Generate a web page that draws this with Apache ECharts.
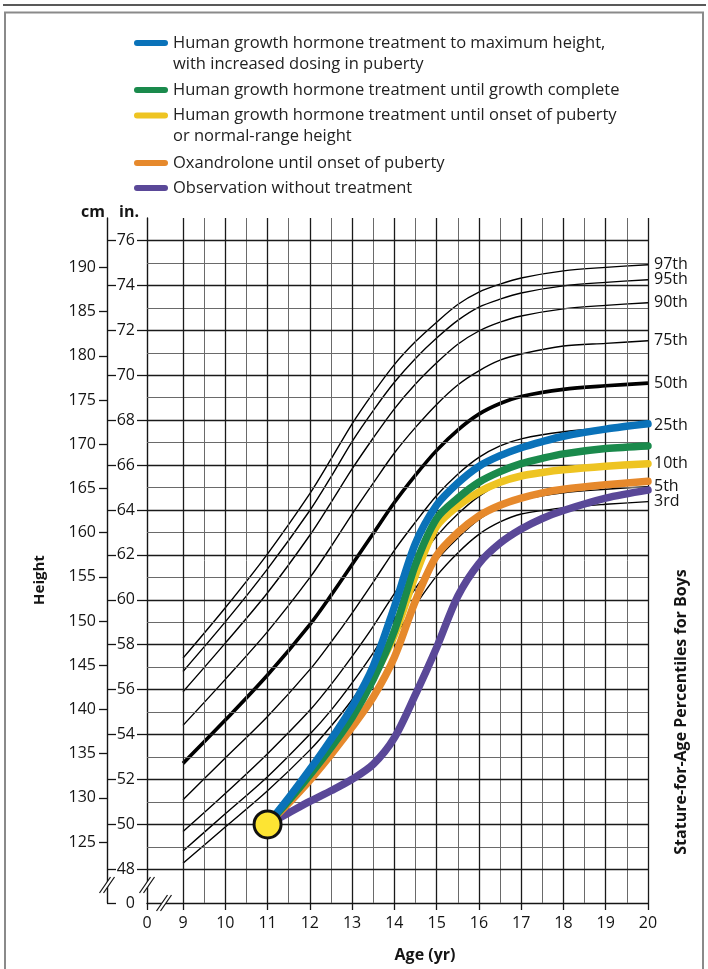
<!DOCTYPE html>
<html><head><meta charset="utf-8">
<script src="https://cdn.jsdelivr.net/npm/echarts@6/dist/echarts.min.js"></script>
<style>html,body{margin:0;padding:0;background:#fff}#c{width:708px;height:969px}</style>
</head><body><div id="c"></div>
<script>
// ---- percentile curves (cm) ----
const ages = [9, 10, 11, 12, 12.5, 13, 13.5, 14, 14.5, 15, 15.5, 16, 16.5, 17, 18, 19, 20];
const p97 = [145.8, 151.5, 157.6, 164.4, 168.3, 172.3, 175.8, 179.0, 181.6, 183.8, 185.8, 187.2, 188.1, 188.8, 189.6, 190.0, 190.3];
const p95 = [144.3, 149.9, 155.9, 162.5, 166.3, 170.3, 173.8, 177.0, 179.7, 182.0, 184.0, 185.5, 186.4, 187.1, 187.9, 188.3, 188.6];
const p90 = [142.0, 147.5, 153.2, 159.7, 163.4, 167.2, 170.7, 174.0, 176.8, 179.2, 181.3, 182.8, 183.8, 184.5, 185.3, 185.7, 186.0];
const p75 = [138.2, 143.4, 148.8, 154.9, 158.4, 162.1, 165.6, 169.0, 171.9, 174.5, 176.7, 178.3, 179.5, 180.2, 181.1, 181.4, 181.7];
const p50 = [133.9, 138.8, 143.9, 149.6, 152.9, 156.4, 159.9, 163.4, 166.5, 169.3, 171.6, 173.4, 174.6, 175.4, 176.2, 176.6, 176.9];
const p25 = [129.8, 134.5, 139.2, 144.5, 147.6, 150.9, 154.4, 158.0, 161.2, 164.2, 166.6, 168.5, 169.8, 170.6, 171.4, 171.8, 172.1];
const p10 = [126.2, 130.5, 135.0, 139.9, 142.8, 146.0, 149.4, 153.1, 156.5, 159.6, 162.1, 164.1, 165.5, 166.3, 167.1, 167.5, 167.8];
const p5  = [124.0, 128.2, 132.4, 137.2, 139.9, 143.0, 146.4, 150.2, 153.7, 156.9, 159.4, 161.5, 162.9, 163.7, 164.5, 164.9, 165.2];
const p3  = [122.6, 126.7, 130.8, 135.4, 138.1, 141.1, 144.5, 148.2, 151.8, 155.1, 157.7, 159.8, 161.2, 162.1, 162.8, 163.2, 163.5];
const percentileNames = ['97th', '95th', '90th', '75th', '50th', '25th', '10th', '5th', '3rd'];

// ---- treatment curves (cm) ----
const agesT = [11, 11.5, 12, 12.5, 13, 13.5, 14, 14.5, 15, 15.5, 16, 16.5, 17, 17.5, 18, 19, 20];
const blueGH   = [127.0, 130.0, 133.2, 136.6, 140.3, 144.9, 151.6, 158.8, 163.1, 165.6, 167.5, 168.7, 169.6, 170.3, 170.9, 171.7, 172.3];
const greenGH  = [127.0, 129.7, 132.6, 135.7, 139.1, 143.4, 148.9, 156.4, 161.6, 163.9, 165.7, 166.9, 167.8, 168.4, 168.9, 169.5, 169.8];
const yellowGH = [127.0, 129.8, 132.8, 136.0, 139.5, 143.6, 148.4, 155.2, 160.7, 163.0, 164.6, 165.7, 166.4, 166.8, 167.1, 167.5, 167.8];
const orangeOx = [127.0, 129.4, 132.0, 134.9, 138.0, 141.4, 145.9, 152.3, 157.4, 160.0, 161.9, 163.1, 163.9, 164.5, 164.9, 165.4, 165.8];
const purpleObs= [127.0, 128.3, 129.6, 130.8, 132.1, 133.8, 136.8, 141.7, 147.0, 152.8, 156.5, 158.8, 160.4, 161.6, 162.5, 163.9, 164.8];
const startPoint = [11, 127.0];

const treatmentNames = [
  'Human growth hormone treatment to maximum height,\nwith increased dosing in puberty',
  'Human growth hormone treatment until growth complete',
  'Human growth hormone treatment until onset of puberty\nor normal-range height',
  'Oxandrolone until onset of puberty',
  'Observation without treatment'
];
const treatmentColors = ['#0a72b9', '#1a8a4c', '#eec422', '#e6892c', '#5a4898'];

// ---- ticks / grid values ----
const xZero = 8.148;             // position standing in for "0" after the break
const yearTicks = [9,10,11,12,13,14,15,16,17,18,19,20];
const yearHalf = [9.5,10.5,11.5,12.5,13.5,14.5,15.5,16.5,17.5,18.5,19.5];
const inchZero = 46.5;           // position standing in for "0" after the break
const inchEven = [48,50,52,54,56,58,60,62,64,66,68,70,72,74,76];
const inchOdd = [49,51,53,55,57,59,61,63,65,67,69,71,73,75];
const cmTicks = [125,130,135,140,145,150,155,160,165,170,175,180,185,190];

const FONT = "'Open Sans','Noto Sans',sans-serif";
const INK = '#151515';

const chart = echarts.init(document.getElementById('c'), null, {renderer: 'canvas'});

const pct = [p97, p95, p90, p75, p50, p25, p10, p5, p3];
const series = [];

function gridSeries(list, key, color, width) {
  return {
    type: 'line', data: [], xAxisIndex: 0, yAxisIndex: 0, z: 1, silent: true,
    markLine: {
      silent: true, symbol: ['none', 'none'], animation: false,
      label: {show: false}, emphasis: {disabled: true},
      lineStyle: {type: 'solid', color: color, width: width},
      data: list.map(v => ({[key]: v}))
    }
  };
}
series.push(gridSeries(inchOdd, 'yAxis', '#6a6a6a', 1));
series.push(gridSeries(yearHalf, 'xAxis', '#6a6a6a', 1));
series.push(gridSeries(inchEven, 'yAxis', '#1a1a1a', 1.3));
series.push(gridSeries(yearTicks, 'xAxis', '#1a1a1a', 1.3));

pct.forEach((arr, k) => {
  series.push({
    name: percentileNames[k], type: 'line', xAxisIndex: 0, yAxisIndex: 1,
    data: ages.map((a, i) => [a, arr[i]]),
    smooth: 0.3, showSymbol: false, symbol: 'none', silent: true, z: 3,
    lineStyle: {color: '#000', width: percentileNames[k] === '50th' ? 3.6 : 1.4},
    itemStyle: {color: '#000'},
    endLabel: {show: true, formatter: percentileNames[k], color: INK, fontSize: 16, fontFamily: FONT, distance: 6},
    animation: false
  });
});

const tData = [blueGH, greenGH, yellowGH, orangeOx, purpleObs];
const drawOrder = [4, 3, 2, 1, 0];
drawOrder.forEach((k, j) => {
  series.push({
    name: treatmentNames[k], type: 'line', xAxisIndex: 0, yAxisIndex: 1,
    data: agesT.map((a, i) => [a, tData[k][i]]),
    smooth: 0.3, showSymbol: false, symbol: 'none', silent: true, z: 5 + j,
    color: treatmentColors[k],
    lineStyle: {color: treatmentColors[k], width: 7.5, cap: 'round'},
    itemStyle: {color: treatmentColors[k]},
    animation: false
  });
});

series.push({
  type: 'scatter', xAxisIndex: 0, yAxisIndex: 1, z: 20, silent: true,
  data: [startPoint], symbolSize: 27,
  itemStyle: {color: '#fde433', borderColor: '#111', borderWidth: 3, opacity: 1},
  animation: false
});

const ICON = 'path://M3,0 L31,0 A3,3 0 0 1 31,6 L3,6 A3,3 0 0 1 3,0 Z';
const legendCenters = [43, 90, 115.5, 163, 188];
const legends = treatmentNames.map((n, k) => {
  const two = n.indexOf('\n') >= 0;
  return {
    left: 134, top: legendCenters[k] - (two ? 31.5 : 10.5), orient: 'vertical', padding: 0,
    itemWidth: 34, itemHeight: 6, icon: ICON, selectedMode: false,
    data: [n],
    formatter: two ? (name => '\n' + name) : (name => name),
    textStyle: {fontSize: 16.5, lineHeight: 21, color: '#222', fontFamily: FONT}
  };
});

const labelStyle = {color: INK, fontSize: 16, fontFamily: FONT};

chart.setOption({
  animation: false,
  backgroundColor: '#fff',
  legend: legends,
  grid: {left: 147, right: 60, top: 218, bottom: 66, containLabel: false, outerBoundsMode: 'none'},
  xAxis: [{
    type: 'value', min: xZero, max: 20, position: 'bottom',
    axisLine: {show: true, lineStyle: {color: INK, width: 1.4}},
    axisTick: {show: true, length: 7, customValues: [xZero].concat(yearTicks), lineStyle: {color: INK, width: 1.3}},
    axisLabel: Object.assign({show: true, margin: 12, customValues: [xZero].concat(yearTicks),
      formatter: v => (v < 8.5 ? '0' : String(v))}, labelStyle),
    splitLine: {show: false}
  }],
  yAxis: [
    {
      type: 'value', min: inchZero, max: 77, position: 'left', offset: 0,
      axisLine: {show: true, lineStyle: {color: INK, width: 1.4}},
      axisTick: {show: true, length: 10, customValues: inchEven, lineStyle: {color: INK, width: 1.3}},
      axisLabel: Object.assign({show: true, margin: 12, customValues: [inchZero].concat(inchEven),
        formatter: v => (v < 47 ? '0' : String(v))}, labelStyle),
      splitLine: {show: false}
    },
    {
      type: 'value', min: inchZero * 2.54, max: 77 * 2.54, position: 'left', offset: 40,
      axisLine: {show: true, lineStyle: {color: INK, width: 1.4}},
      axisTick: {show: true, length: 8, customValues: cmTicks, lineStyle: {color: INK, width: 1.3}},
      axisLabel: Object.assign({show: true, margin: 11, customValues: cmTicks}, labelStyle),
      splitLine: {show: false}
    },
    {
      type: 'value', min: inchZero, max: 77, position: 'left', offset: 40,
      axisLine: {show: false},
      axisTick: {show: true, inside: true, length: 9, customValues: [inchZero].concat(inchEven), lineStyle: {color: INK, width: 1.3}},
      axisLabel: {show: false},
      splitLine: {show: false}
    }
  ],
  series: series
});

const pA = chart.convertToPixel({xAxisIndex: 0, yAxisIndex: 0}, [xZero, 47.3]);
const pB = chart.convertToPixel({xAxisIndex: 0, yAxisIndex: 0}, [8.55, inchZero]);
function brk(cx, cy) {
  return [
    {type: 'polygon', z: 100, shape: {points: [[cx - 7.5, cy + 8], [cx + 3.5, cy - 8], [cx + 7.5, cy - 8], [cx - 3.5, cy + 8]]}, style: {fill: '#fff'}},
    {type: 'line', z: 101, shape: {x1: cx - 7.5, y1: cy + 8, x2: cx + 3.5, y2: cy - 8}, style: {stroke: INK, lineWidth: 1.2}},
    {type: 'line', z: 101, shape: {x1: cx - 3.5, y1: cy + 8, x2: cx + 7.5, y2: cy - 8}, style: {stroke: INK, lineWidth: 1.2}}
  ];
}
const txt = (t, x, y, size, rot, align) => ({
  type: 'text', x: x, y: y, rotation: rot || 0, z: 50,
  style: {text: t, fontSize: size, fontWeight: 'bold', fontFamily: FONT, fill: INK, align: align || 'center', verticalAlign: 'middle'}
});
const graphics = []
  .concat(brk(pA[0] - 40, pA[1]))
  .concat(brk(pA[0], pA[1]))
  .concat(brk(pB[0], pB[1]))
  .concat([
    {type: 'line', z: 60, shape: {x1: 3, y1: 5, x2: 706, y2: 5}, style: {stroke: '#222', lineWidth: 1.5}},
    {type: 'rect', z: 60, shape: {x: 5, y: 12.5, width: 698, height: 970}, style: {fill: 'none', stroke: '#8a8a8a', lineWidth: 2}},
    txt('cm', 105, 212, 16, 0, 'right'),
    txt('in.', 119, 212, 16, 0, 'left'),
    txt('Height', 40, 580, 15, Math.PI / 2),
    txt('Stature-for-Age Percentiles for Boys', 681, 712, 16, Math.PI / 2),
    txt('Age (yr)', 425, 955, 16, 0)
  ]);
chart.setOption({graphic: graphics});
</script></body></html>
